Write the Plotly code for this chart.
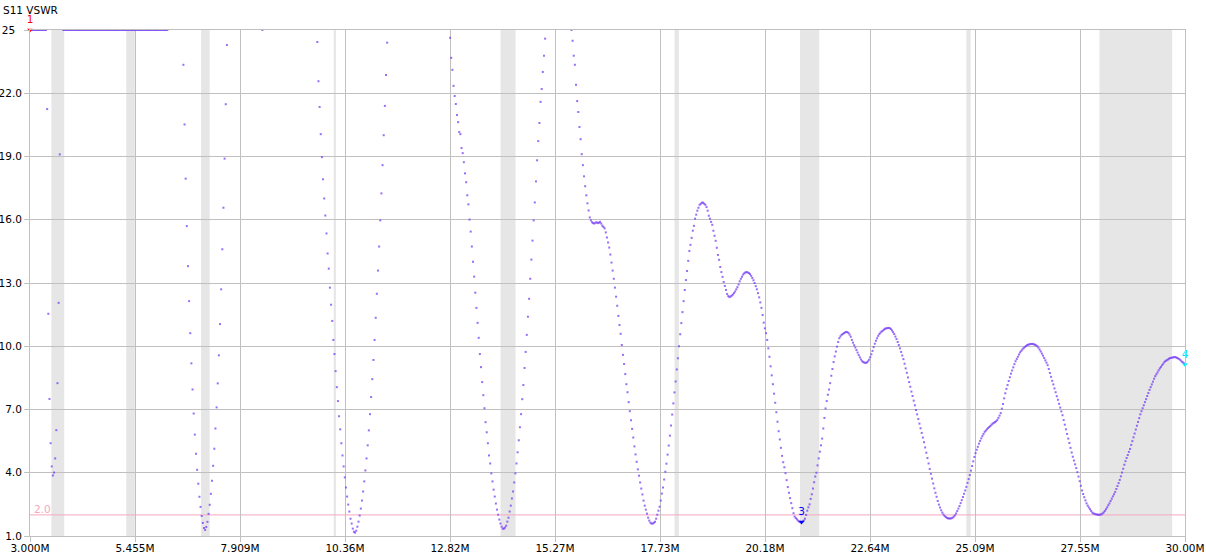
import numpy as np
import plotly.graph_objects as go

# ---------------- sweep definition ----------------
F_START, F_STOP, N_POINTS = 3.0, 30.0, 1010

# ---------------- VSWR readings (None = above 25, not drawn) ----------------
vswr_80m_dip = [21.25, 11.54, 7.5, 5.4, 4.3, 3.87, 4.01, 4.68, 6.02, 8.25, 12.06, 19.1]
vswr_40m_dip = [23.35, 20.52, 17.95, 15.7, 13.8, 12.14, 10.62, 9.19, 7.95, 6.81,
                5.81, 4.90, 4.14, 3.48, 2.86, 2.38, 1.95, 1.62, 1.38, 1.29,
                1.43, 1.67, 2.05, 2.48, 3.0, 3.62, 4.33, 5.14, 6.10, 7.10,
                8.24, 9.57, 11.05, 12.7, 14.6, 16.57, 18.9, 21.48, 24.29]
vswr_30m_dip = [24.43, 22.57, 21.35, 20.06, 18.97, 17.92, 17.01, 16.2, 15.35, 14.40,
                13.68, 12.78, 11.97, 11.2, 10.3, 9.63, 8.82, 8.06, 7.40, 6.68,
                6.06, 5.40, 4.82, 4.30, 3.78, 3.30, 2.87, 2.49, 2.16, 1.82,
                1.59, 1.35, 1.20, 1.16,
                1.25, 1.44, 1.68, 1.97, 2.30, 2.68, 3.11, 3.59, 4.11, 4.68,
                5.30, 6.01, 6.78, 7.59, 8.44, 9.35, 10.3, 11.35, 12.49, 13.59,
                14.73, 15.97, 17.25, 18.59, 20.01, 21.40, 22.87, 24.40]
vswr_20m_dip = [24.63, 23.68, 23.11, 22.35, 21.87, 21.49, 20.97, 20.63, 20.16, 20.06,
                19.40, 19.16, 18.73, 18.2, 17.78, 17.16, 16.73, 16.01, 15.44, 14.73,
                14.01, 13.3, 12.54, 11.82, 11.11, 10.40, 9.63, 9.01, 8.30, 7.68,
                7.06, 6.40, 5.92, 5.40, 4.82, 4.44, 3.97, 3.59, 3.20, 2.87,
                2.54, 2.25, 2.01, 1.78, 1.59, 1.44, 1.35, 1.35,
                1.40, 1.49, 1.68, 1.87, 2.16, 2.44, 2.78, 3.11, 3.54, 3.97,
                4.44, 4.97, 5.54, 6.16, 6.78, 7.49, 8.16, 8.97, 9.73, 10.54,
                11.40, 12.25, 13.2, 14.11, 15.01, 15.97, 16.82, 17.82, 18.82, 19.73,
                20.59, 21.59, 22.2, 23.01, 23.78, 24.59]
vswr_hf = [
    25.0, 24.49, 23.78, 23.35, 22.40, 21.63, 21.11, 20.40, 19.82, 19.11,
    18.59, 18.06, 17.59, 17.16, 16.78, 16.44, 16.11, 15.97,
    15.88, 15.84, 15.82, 15.86, 15.88, 15.84, 15.86, 15.9, 15.82, 15.72, 15.66, 15.59,
    15.40, 15.16, 14.92, 14.68, 14.35, 13.97, 13.59, 13.2, 12.78, 12.35,
    11.92, 11.44, 11.01, 10.59, 10.06, 9.59, 9.16, 8.68, 8.20, 7.82,
    7.35, 6.92, 6.49, 6.08, 5.67, 5.25, 4.87, 4.52, 4.16, 3.86,
    3.54, 3.25, 2.97, 2.68, 2.44, 2.25, 2.06, 1.87, 1.73, 1.63,
    1.59, 1.59, 1.63, 1.68, 1.82, 2.01, 2.2, 2.39, 2.68, 3.01,
    3.30, 3.68, 4.05, 4.43, 4.86, 5.29, 5.76, 6.24, 6.76, 7.29,
    7.81, 8.33, 8.90, 9.43, 10.0, 10.57, 11.10, 11.62, 12.14, 12.67,
    13.14, 13.57, 14.05, 14.52, 14.81, 15.14, 15.48, 15.71, 16.05, 16.24,
    16.43, 16.57, 16.71, 16.76, 16.81, 16.81, 16.76, 16.71, 16.6, 16.43,
    16.19, 16.05, 15.9, 15.76, 15.48, 15.24, 15.0, 14.67, 14.33, 14.10,
    13.76, 13.52, 13.29, 13.05, 12.86, 12.67, 12.48, 12.38, 12.33,
    12.36, 12.4, 12.45, 12.52, 12.6, 12.7, 12.8, 12.93, 13.08, 13.2,
    13.3, 13.4, 13.46, 13.5, 13.52,
    13.5, 13.47, 13.42, 13.34, 13.24, 13.13, 13.0, 12.85, 12.7, 12.52,
    12.32, 12.08, 11.82, 11.48, 11.12, 10.85, 10.62, 10.3, 9.9, 9.5,
    9.05, 8.62, 8.2, 7.75, 7.32, 6.87, 6.42, 5.97, 5.58, 5.18,
    4.8, 4.5, 4.26, 3.98, 3.65, 3.32, 3.05, 2.8, 2.56, 2.32,
    2.08, 1.92, 1.85, 1.79, 1.73, 1.68, 1.66, 1.66, 1.68, 1.73,
    1.82, 2.0, 2.2, 2.36, 2.5, 2.76, 2.98, 3.25, 3.55, 3.82,
    4.0, 4.35, 4.68, 5.0, 5.3, 5.62, 6.1, 6.6, 7.05, 7.4,
    7.7, 7.95, 8.25, 8.6, 8.92, 9.25, 9.52, 9.75, 9.98, 10.2,
    10.38, 10.47, 10.54, 10.58, 10.62, 10.65, 10.68, 10.67, 10.63, 10.55,
    10.45, 10.3, 10.17, 10.05, 9.94, 9.82, 9.7, 9.58, 9.47, 9.37,
    9.29, 9.25, 9.22, 9.21, 9.23, 9.28, 9.36, 9.48, 9.62, 9.78,
    9.96, 10.12, 10.26, 10.38, 10.49, 10.58, 10.65, 10.7, 10.74, 10.79,
    10.83, 10.85, 10.86, 10.87, 10.86, 10.82, 10.75, 10.67, 10.58, 10.46,
    10.34, 10.2, 10.06, 9.9, 9.73, 9.56, 9.39, 9.17, 8.95, 8.74,
    8.52, 8.3, 8.08, 7.85, 7.64, 7.42, 7.2, 6.98, 6.77, 6.55,
    6.33, 6.11, 5.89, 5.67, 5.45, 5.2, 4.95, 4.7, 4.44, 4.18,
    3.95, 3.72, 3.49, 3.26, 3.05, 2.86, 2.66, 2.49, 2.35, 2.22,
    2.11, 2.02, 1.95, 1.9, 1.86, 1.84, 1.83, 1.83, 1.84, 1.87,
    1.92, 1.98, 2.07, 2.18, 2.3, 2.42, 2.56, 2.7, 2.85, 3.0,
    3.16, 3.33, 3.52, 3.7, 3.89, 4.1, 4.32, 4.54, 4.75, 4.93,
    5.09, 5.23, 5.38, 5.51, 5.63, 5.74, 5.84, 5.94, 6.0, 6.06,
    6.12, 6.17, 6.22, 6.28, 6.33, 6.37, 6.4, 6.44, 6.5, 6.6,
    6.71, 6.83, 7.04, 7.26, 7.53, 7.77, 7.98, 8.16, 8.35, 8.53,
    8.7, 8.85, 9.0, 9.15, 9.29, 9.4, 9.5, 9.61, 9.71, 9.78,
    9.85, 9.91, 9.96, 10.01, 10.05, 10.07, 10.09, 10.11, 10.11, 10.11,
    10.09, 10.07, 10.04, 10.0, 9.93, 9.84, 9.75, 9.65, 9.55, 9.44,
    9.33, 9.22, 9.1, 8.92, 8.73, 8.55, 8.36, 8.19, 8.0, 7.82,
    7.63, 7.46, 7.27, 7.09, 6.91, 6.73, 6.5, 6.28, 6.06, 5.84,
    5.62, 5.41, 5.18, 4.96, 4.76, 4.58, 4.4, 4.22, 4.03, 3.82,
    3.6, 3.38, 3.16, 2.99, 2.84, 2.69, 2.55, 2.44, 2.35, 2.27,
    2.19, 2.11, 2.07, 2.05, 2.03, 2.02, 2.01, 2.01, 2.01, 2.03,
    2.07, 2.12, 2.19, 2.27, 2.36, 2.46, 2.55, 2.66, 2.77, 2.88,
    2.98, 3.09, 3.23, 3.37, 3.51, 3.66, 3.83, 4.01, 4.19, 4.38,
    4.55, 4.7, 4.84, 4.99, 5.13, 5.32, 5.5, 5.68, 5.86, 6.05,
    6.23, 6.41, 6.59, 6.77, 6.92, 7.06, 7.2, 7.35, 7.49, 7.64,
    7.78, 7.93, 8.06, 8.19, 8.32, 8.46, 8.58, 8.67, 8.76, 8.86,
    8.95, 9.02, 9.1, 9.17, 9.25, 9.3, 9.34, 9.37, 9.41, 9.44,
    9.45, 9.46, 9.48, 9.49, 9.47, 9.45, 9.42, 9.39, 9.34, 9.28,
    9.24, 9.19, 9.13,
]

vswr = ([25.0] * 15 + vswr_80m_dip + [None] * 2 + [25.0] * 92 + [None] * 13
        + vswr_40m_dip + [None] * 30 + [25.0] + [None] * 47
        + vswr_30m_dip + [None] * 54 + vswr_20m_dip + [None] * 22 + vswr_hf)

n = len(vswr)
freq = np.linspace(F_START, F_STOP, N_POINTS if n == N_POINTS else n)

# ---------------- axis ticks ----------------
x_tick_vals = [3.0, 5.4545, 7.9091, 10.3636, 12.8182, 15.2727, 17.7273,
               20.1818, 22.6364, 25.0909, 27.5455, 30.0]
x_tick_text = ["3.000M", "5.455M", "7.909M", "10.36M", "12.82M", "15.27M",
               "17.73M", "20.18M", "22.64M", "25.09M", "27.55M", "30.00M"]
y_tick_vals = [1, 4, 7, 10, 13, 16, 19, 22, 25]
y_tick_text = ["1.0", "4.0", "7.0", "10.0", "13.0", "16.0", "19.0", "22.0",
               "25\u00a0\u00a0"]

# ham bands (MHz)
band_lo = [3.5, 5.25, 7.0, 10.1, 14.0, 18.068, 21.0, 24.89, 28.0]
band_hi = [3.8, 5.45, 7.2, 10.15, 14.35, 18.168, 21.45, 24.99, 29.7]

# markers
marker_idx = [0, 674, n - 1]
marker_lbl = ["1", "3", "4"]
marker_col = ["#ff0000", "#0000ff", "#00e5ff"]

swr_limit = 2.0

FONT = "DejaVu Sans"
FS = 10.5
GRID = "#c0c0c0"

fig = go.Figure()

fig.add_trace(go.Scatter(
    x=freq, y=vswr, mode="markers",
    marker=dict(symbol="square", size=2, color="rgba(118,62,245,0.75)",
                line=dict(width=0)),
    cliponaxis=False, showlegend=False, hoverinfo="skip"))

for idx, lbl, col in zip(marker_idx, marker_lbl, marker_col):
    fig.add_trace(go.Scatter(
        x=[freq[idx]], y=[vswr[idx]], mode="markers+text",
        marker=dict(symbol="triangle-down", size=5, color=col, line=dict(width=0)),
        text=[lbl], textposition="top center",
        textfont=dict(family=FONT, size=FS, color=col),
        cliponaxis=False, showlegend=False, hoverinfo="skip"))

shapes = []
for lo, hi in zip(band_lo, band_hi):
    shapes.append(dict(type="rect", xref="x", yref="paper", x0=lo, x1=hi, y0=0, y1=1,
                       fillcolor="#e6e6e6", line=dict(width=0), layer="below"))
shapes.append(dict(type="line", xref="paper", yref="y", x0=0, x1=1,
                   y0=swr_limit, y1=swr_limit,
                   line=dict(color="#f4a8bf", width=1), layer="below"))

fig.update_layout(
    width=1206, height=556,
    margin=dict(l=30, r=21, t=30, b=20, autoexpand=False),
    paper_bgcolor="white", plot_bgcolor="white",
    font=dict(family=FONT, size=FS, color="black"),
    title=dict(text="S11 VSWR", x=3 / 1206, xanchor="left", xref="container",
               y=1 - 10 / 556, yanchor="middle", yref="container",
               font=dict(family=FONT, size=FS, color="black")),
    shapes=shapes,
    annotations=[dict(text=str(swr_limit), xref="paper", yref="y", x=0, y=swr_limit,
                      xanchor="left", yanchor="bottom", xshift=2, yshift=-2,
                      showarrow=False, font=dict(family=FONT, size=FS, color="#f4a8bf"))],
)

fig.update_xaxes(
    range=[F_START, F_STOP], tickmode="array", tickvals=x_tick_vals, ticktext=x_tick_text,
    automargin=False, ticklabelstandoff=-3,
    showgrid=True, gridcolor=GRID, gridwidth=1, zeroline=False,
    showline=True, linecolor=GRID, linewidth=1, mirror=True,
    ticks="outside", ticklen=5, tickcolor=GRID,
    tickfont=dict(family=FONT, size=FS, color="black"))
fig.update_yaxes(
    range=[1, 25], tickmode="array", tickvals=y_tick_vals, ticktext=y_tick_text,
    automargin=False,
    showgrid=True, gridcolor=GRID, gridwidth=1, zeroline=False,
    showline=True, linecolor=GRID, linewidth=1, mirror=True,
    ticks="outside", ticklen=5, tickcolor=GRID,
    tickfont=dict(family=FONT, size=FS, color="black"))

fig.write_html("out.html",
               config={"displayModeBar": False},
               post_script="document.body.style.margin='0';document.body.style.overflow='hidden';")
